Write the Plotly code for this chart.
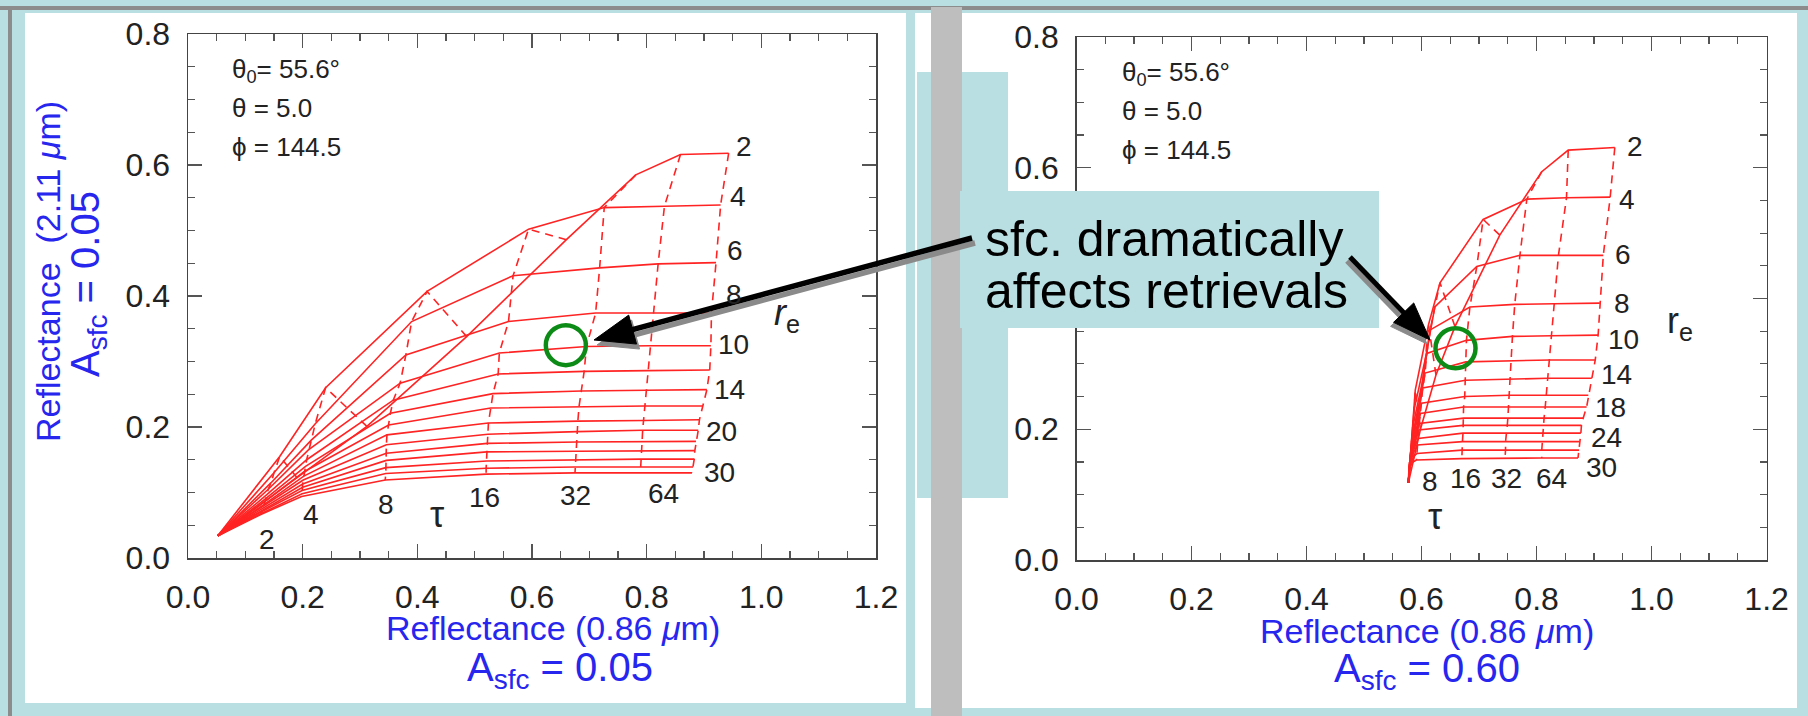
import plotly.graph_objects as go

W, H = 1808, 716

# ---------------- data ----------------
TAU = [0, 2, 4, 8, 16, 32, 64, 128]
RE = [2, 4, 6, 8, 10, 12, 14, 16, 18, 20, 22, 24, 26, 28, 30]

# Left panel (A_sfc = 0.05): rows = re, columns = tau
LEFT_R086 = [
    [0.052, 0.190, 0.312, 0.486, 0.660, 0.781, 0.859, 0.943],
    [0.052, 0.160, 0.240, 0.417, 0.594, 0.726, 0.831, 0.929],
    [0.052, 0.150, 0.222, 0.390, 0.567, 0.718, 0.820, 0.921],
    [0.052, 0.145, 0.215, 0.380, 0.559, 0.711, 0.812, 0.913],
    [0.052, 0.140, 0.210, 0.370, 0.543, 0.695, 0.806, 0.912],
    [0.052, 0.138, 0.207, 0.358, 0.541, 0.691, 0.802, 0.910],
    [0.052, 0.136, 0.205, 0.353, 0.532, 0.686, 0.800, 0.905],
    [0.052, 0.134, 0.203, 0.350, 0.528, 0.682, 0.797, 0.898],
    [0.052, 0.133, 0.202, 0.347, 0.524, 0.680, 0.795, 0.892],
    [0.052, 0.132, 0.201, 0.346, 0.523, 0.679, 0.793, 0.890],
    [0.052, 0.131, 0.200, 0.346, 0.522, 0.678, 0.792, 0.886],
    [0.052, 0.130, 0.200, 0.346, 0.521, 0.677, 0.791, 0.884],
    [0.052, 0.129, 0.199, 0.345, 0.521, 0.676, 0.790, 0.883],
    [0.052, 0.128, 0.199, 0.345, 0.520, 0.675, 0.790, 0.881],
    [0.052, 0.126, 0.198, 0.344, 0.520, 0.675, 0.789, 0.879],
]
LEFT_R211 = [
    [0.034, 0.123, 0.201, 0.338, 0.486, 0.585, 0.616, 0.618],
    [0.034, 0.155, 0.260, 0.407, 0.502, 0.535, 0.537, 0.539],
    [0.034, 0.130, 0.205, 0.361, 0.431, 0.443, 0.449, 0.451],
    [0.034, 0.115, 0.180, 0.310, 0.361, 0.374, 0.374, 0.374],
    [0.034, 0.105, 0.165, 0.267, 0.313, 0.323, 0.324, 0.324],
    [0.034, 0.097, 0.150, 0.241, 0.281, 0.285, 0.286, 0.287],
    [0.034, 0.091, 0.140, 0.221, 0.251, 0.255, 0.256, 0.257],
    [0.034, 0.086, 0.132, 0.203, 0.229, 0.231, 0.232, 0.232],
    [0.034, 0.082, 0.125, 0.188, 0.206, 0.209, 0.210, 0.211],
    [0.034, 0.079, 0.119, 0.173, 0.189, 0.193, 0.195, 0.195],
    [0.034, 0.076, 0.113, 0.160, 0.175, 0.177, 0.177, 0.178],
    [0.034, 0.073, 0.108, 0.149, 0.162, 0.163, 0.164, 0.164],
    [0.034, 0.071, 0.103, 0.138, 0.148, 0.150, 0.151, 0.151],
    [0.034, 0.068, 0.098, 0.129, 0.137, 0.139, 0.139, 0.139],
    [0.034, 0.066, 0.094, 0.119, 0.128, 0.130, 0.130, 0.130],
]

# Right panel (A_sfc = 0.60): rows = re, columns = tau
RIGHT_R086 = [
    [0.577, 0.598, 0.625, 0.658, 0.736, 0.809, 0.855, 0.936],
    [0.577, 0.589, 0.612, 0.632, 0.707, 0.783, 0.852, 0.928],
    [0.577, 0.587, 0.607, 0.623, 0.696, 0.771, 0.838, 0.916],
    [0.577, 0.585, 0.602, 0.615, 0.684, 0.762, 0.831, 0.910],
    [0.577, 0.584, 0.598, 0.609, 0.678, 0.758, 0.826, 0.907],
    [0.577, 0.583, 0.595, 0.606, 0.677, 0.756, 0.823, 0.902],
    [0.577, 0.582, 0.593, 0.602, 0.676, 0.754, 0.820, 0.896],
    [0.577, 0.581, 0.592, 0.600, 0.675, 0.752, 0.817, 0.890],
    [0.577, 0.581, 0.591, 0.598, 0.673, 0.751, 0.815, 0.887],
    [0.577, 0.580, 0.590, 0.596, 0.673, 0.750, 0.813, 0.881],
    [0.577, 0.580, 0.589, 0.595, 0.672, 0.749, 0.812, 0.878],
    [0.577, 0.579, 0.588, 0.594, 0.672, 0.747, 0.811, 0.877],
    [0.577, 0.579, 0.587, 0.593, 0.671, 0.746, 0.810, 0.875],
    [0.577, 0.579, 0.586, 0.592, 0.670, 0.746, 0.809, 0.874],
    [0.577, 0.578, 0.585, 0.591, 0.670, 0.745, 0.809, 0.872],
]
RIGHT_R211 = [
    [0.118, 0.200, 0.283, 0.357, 0.497, 0.594, 0.627, 0.631],
    [0.118, 0.260, 0.360, 0.424, 0.521, 0.552, 0.554, 0.555],
    [0.118, 0.230, 0.310, 0.387, 0.449, 0.466, 0.466, 0.466],
    [0.118, 0.205, 0.275, 0.352, 0.387, 0.391, 0.392, 0.393],
    [0.118, 0.190, 0.250, 0.316, 0.336, 0.342, 0.343, 0.344],
    [0.118, 0.180, 0.232, 0.286, 0.303, 0.305, 0.306, 0.306],
    [0.118, 0.172, 0.218, 0.263, 0.275, 0.277, 0.278, 0.278],
    [0.118, 0.165, 0.205, 0.240, 0.250, 0.252, 0.252, 0.252],
    [0.118, 0.160, 0.195, 0.224, 0.234, 0.234, 0.234, 0.234],
    [0.118, 0.156, 0.186, 0.209, 0.217, 0.217, 0.217, 0.217],
    [0.118, 0.153, 0.180, 0.199, 0.206, 0.206, 0.206, 0.206],
    [0.118, 0.149, 0.173, 0.186, 0.194, 0.194, 0.194, 0.194],
    [0.118, 0.146, 0.166, 0.176, 0.181, 0.181, 0.181, 0.181],
    [0.118, 0.143, 0.158, 0.163, 0.168, 0.168, 0.168, 0.168],
    [0.118, 0.140, 0.150, 0.153, 0.155, 0.156, 0.156, 0.156],
]

RE_LABELS_LEFT = ["2", "4", "6", "8", "10", "14", "20", "30"]
RE_LABEL_LEFT_X = [0.970, 0.960, 0.954, 0.952, 0.952, 0.944, 0.930, 0.927]
RE_LABEL_LEFT_Y = [0.629, 0.552, 0.469, 0.402, 0.326, 0.257, 0.193, 0.130]
TAU_LABELS_LEFT = ["2", "4", "8", "16", "32", "64"]
TAU_LABEL_LEFT_X = [0.138, 0.215, 0.345, 0.517, 0.676, 0.829]
TAU_LABEL_LEFT_Y = [0.029, 0.066, 0.082, 0.093, 0.096, 0.099]

RE_LABELS_RIGHT = ["2", "4", "6", "8", "10", "14", "18", "24", "30"]
RE_LABEL_RIGHT_X = [0.971, 0.957, 0.950, 0.948, 0.951, 0.939, 0.929, 0.922, 0.913]
RE_LABEL_RIGHT_Y = [0.632, 0.551, 0.467, 0.393, 0.338, 0.284, 0.233, 0.187, 0.141]
TAU_LABELS_RIGHT = ["8", "16", "32", "64"]
TAU_LABEL_RIGHT_X = [0.615, 0.676, 0.748, 0.826]
TAU_LABEL_RIGHT_Y = [0.120, 0.125, 0.125, 0.125]

ANGLE_TEXT = ["θ<sub>0</sub>= 55.6°", "θ = 5.0", "ϕ = 144.5"]
ANGLE_Y = [0.744, 0.687, 0.627]

TICKS_X = [0.0, 0.2, 0.4, 0.6, 0.8, 1.0, 1.2]
TICKS_Y = [0.0, 0.2, 0.4, 0.6, 0.8]

# ---------------- helpers ----------------
FONT = "Liberation Sans, Arial, Helvetica, sans-serif"
RED = "rgb(255,35,35)"
BLUE = "#2626ee"
TEAL = "#b9dfe2"
GREEN = "#0c8c16"


def PX(x):
    return x / W


def PY(y):
    return 1 - y / H


def rect(x0, y0, x1, y1, color, layer="below"):
    return dict(type="rect", xref="paper", yref="paper",
                x0=PX(x0), x1=PX(x1), y0=PY(y1), y1=PY(y0),
                fillcolor=color, line=dict(width=0), layer=layer)


def arrow(tail, tip, w, L, hw, color):
    tx, ty = tail
    hx, hy = tip
    dx, dy = hx - tx, hy - ty
    n = (dx * dx + dy * dy) ** 0.5
    ux, uy = dx / n, dy / n
    bx, by = hx - ux * L, hy - uy * L
    px, py = -uy, ux
    c1 = (bx + px * hw, by + py * hw)
    c2 = (bx - px * hw, by - py * hw)
    line = dict(type="line", xref="paper", yref="paper",
                x0=PX(tx), y0=PY(ty), x1=PX(bx + ux * 2), y1=PY(by + uy * 2),
                line=dict(color=color, width=w), layer="above")
    path = "M {},{} L {},{} L {},{} Z".format(PX(hx), PY(hy), PX(c1[0]), PY(c1[1]),
                                             PX(c2[0]), PY(c2[1]))
    head = dict(type="path", xref="paper", yref="paper", path=path,
                fillcolor=color, line=dict(color=color, width=1), layer="above")
    return [line, head]


fig = go.Figure()

# grids
for XS, YS, xa, ya in [(LEFT_R086, LEFT_R211, "x", "y"),
                       (RIGHT_R086, RIGHT_R211, "x2", "y2")]:
    for i, re in enumerate(RE):
        fig.add_trace(go.Scatter(x=XS[i], y=YS[i], mode="lines", xaxis=xa, yaxis=ya,
                                 line=dict(color=RED, width=1.6), hoverinfo="skip",
                                 showlegend=False))
    for j in range(1, len(TAU)):
        fig.add_trace(go.Scatter(x=[row[j] for row in XS], y=[row[j] for row in YS],
                                 mode="lines", xaxis=xa, yaxis=ya,
                                 line=dict(color=RED, width=1.6, dash="8px,6px"),
                                 hoverinfo="skip", showlegend=False))

axis_common = dict(showgrid=False, zeroline=False, showline=True, linecolor="#444",
                   linewidth=1.5, mirror="ticks", ticks="inside", ticklen=14,
                   tickwidth=1.3, tickcolor="#555", tickformat=".1f", automargin=False,
                   tickfont=dict(family=FONT, size=32, color="#222"),
                   minor=dict(ticks="inside", ticklen=7, tickwidth=1.2,
                              tickcolor="#555", showgrid=False))

fig.update_layout(
    width=W, height=H, margin=dict(l=0, r=0, t=0, b=0, pad=0), autosize=False,
    paper_bgcolor=TEAL, plot_bgcolor="rgba(0,0,0,0)", showlegend=False,
    font=dict(family=FONT), hovermode=False,
    xaxis=dict(axis_common, domain=[PX(188), PX(876)], range=[0, 1.2], anchor="y",
               tickvals=TICKS_X, minor_dtick=0.05, ticklabelstandoff=10),
    yaxis=dict(axis_common, domain=[PY(558), PY(34)], range=[0, 0.8], anchor="x",
               tickvals=TICKS_Y, minor_dtick=0.05, ticklabelstandoff=10),
    xaxis2=dict(axis_common, domain=[PX(1076.6), PX(1766.6)], range=[0, 1.2], anchor="y2",
                tickvals=TICKS_X, minor_dtick=0.05, ticklabelstandoff=10),
    yaxis2=dict(axis_common, domain=[PY(560), PY(37)], range=[0, 0.8], anchor="x2",
                tickvals=TICKS_Y, minor_dtick=0.05, ticklabelstandoff=10),
)

shapes = [
    rect(0, 6, W, 10, "#8c8c8c"),
    rect(8, 6, 12, H, "#8c8c8c"),
    rect(25, 13, 906, 703, "white"),
    rect(915, 13, 932, 708, "white"),
    rect(962, 13, 1797, 708, "white"),
    rect(917, 72, 1008, 498, TEAL, "above"),
    rect(931, 7, 962, H, "#bebebe", "above"),
    rect(960, 191, 1379, 328, TEAL, "above"),
]
# arrows (shadow then black)
shapes += arrow((975, 243), (597, 345), 5.5, 40, 15, "#8a8a8a")
shapes += arrow((972, 238), (594, 340), 5.5, 40, 15, "black")
shapes += arrow((1347, 261), (1427, 344), 5, 38, 14, "#8a8a8a")
shapes += arrow((1350, 257), (1430, 340), 5, 38, 14, "black")
# green circles
for xa, ya, cx, cy in [("x", "y", 0.659, 0.325), ("x2", "y2", 0.659, 0.324)]:
    shapes.append(dict(type="circle", xref=xa, yref=ya, xsizemode="pixel",
                       ysizemode="pixel", xanchor=cx, yanchor=cy,
                       x0=-20, x1=20, y0=-20, y1=20,
                       line=dict(color=GREEN, width=4.5), layer="above"))
fig.update_layout(shapes=shapes)

ann = []


def txt(text, x, y, size, color="#222", xref="paper", yref="paper", xanchor="center",
        angle=0):
    ann.append(dict(text=text, x=x, y=y, xref=xref, yref=yref, showarrow=False,
                    xanchor=xanchor, yanchor="middle", textangle=angle,
                    font=dict(family=FONT, size=size, color=color)))


# axis titles
txt("Reflectance (0.86 <i>μ</i>m)", PX(553), PY(628), 34, BLUE)
txt("A<sub>sfc</sub> = 0.05", PX(560), PY(670), 40, BLUE)
txt("Reflectance  (2.11 <i>μ</i>m)", PX(48), PY(272), 34, BLUE, angle=-90)
txt("A<sub>sfc</sub> = 0.05", PX(88), PY(284), 40, BLUE, angle=-90)
txt("Reflectance (0.86 <i>μ</i>m)", PX(1427), PY(631), 34, BLUE)
txt("A<sub>sfc</sub> = 0.60", PX(1427), PY(671), 40, BLUE)

# in-plot text
for xa, ya, x0 in [("x", "y", 0.073), ("x2", "y2", 0.0755)]:
    for t, yy in zip(ANGLE_TEXT, ANGLE_Y):
        txt(t, x0, yy, 26, "#222", xa, ya, "left")

for t, x, y in zip(RE_LABELS_LEFT, RE_LABEL_LEFT_X, RE_LABEL_LEFT_Y):
    txt(t, x, y, 28, "#222", "x", "y")
for t, x, y in zip(TAU_LABELS_LEFT, TAU_LABEL_LEFT_X, TAU_LABEL_LEFT_Y):
    txt(t, x, y, 28, "#222", "x", "y")
txt("τ", 0.435, 0.066, 36, "#222", "x", "y")
txt("<i>r</i><sub>e</sub>", 1.044, 0.371, 36, "#222", "x", "y")

for t, x, y in zip(RE_LABELS_RIGHT, RE_LABEL_RIGHT_X, RE_LABEL_RIGHT_Y):
    txt(t, x, y, 28, "#222", "x2", "y2")
for t, x, y in zip(TAU_LABELS_RIGHT, TAU_LABEL_RIGHT_X, TAU_LABEL_RIGHT_Y):
    txt(t, x, y, 28, "#222", "x2", "y2")
txt("τ", 0.624, 0.067, 36, "#222", "x2", "y2")
txt("r<sub>e</sub>", 1.049, 0.362, 36, "#222", "x2", "y2")

# callout text
txt("sfc. dramatically", PX(983), PY(239), 50, "black", xanchor="left")
txt("affects retrievals", PX(983), PY(291), 50, "black", xanchor="left")

fig.update_layout(annotations=ann)

fig.write_html(
    "out.html",
    config={"displayModeBar": False, "staticPlot": True},
    post_script="document.body.style.margin='0px';"
                "document.body.style.background='" + TEAL + "';",
)
